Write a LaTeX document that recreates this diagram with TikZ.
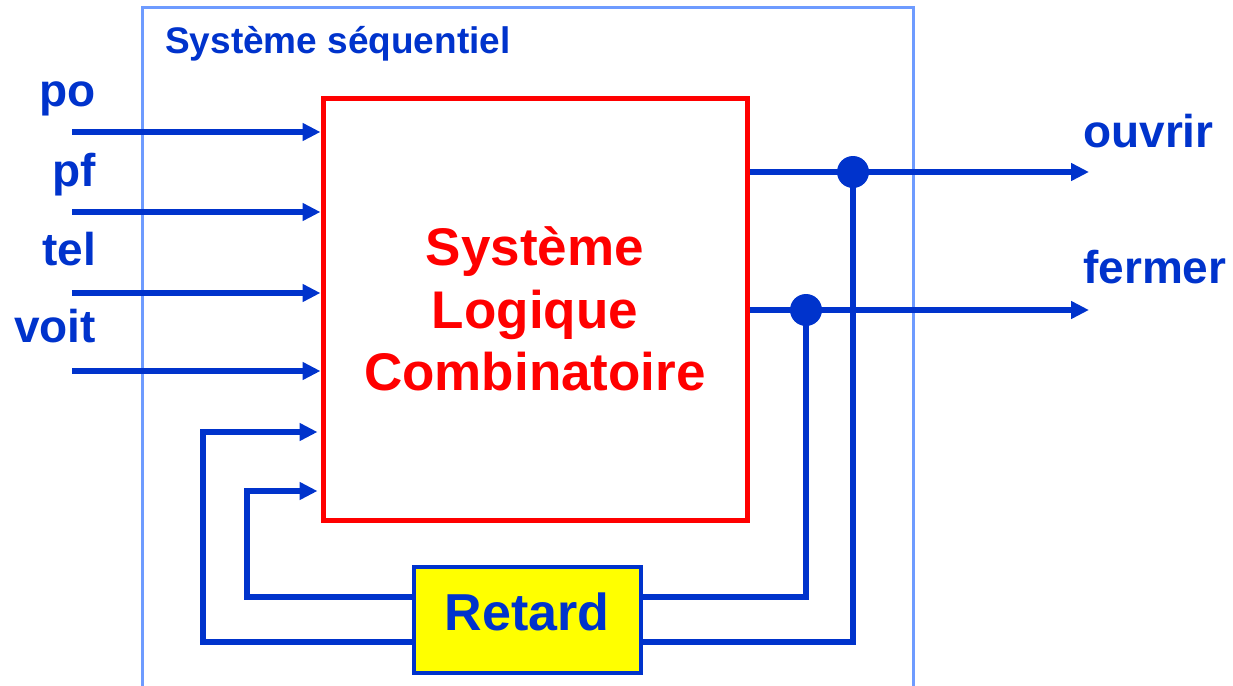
\documentclass[tikz,border=0pt]{standalone}
\usepackage{fontspec}
\setmainfont{Liberation Sans}
\usetikzlibrary{arrows.meta}
\definecolor{wireblue}{RGB}{0,51,204}
\definecolor{frameblue}{RGB}{110,155,255}
\definecolor{boxred}{RGB}{255,0,0}
\definecolor{boxyellow}{RGB}{255,255,0}
\tikzset{
  wire/.style={draw=wireblue, line width=5.5pt},
  arr/.style={wire, -{Triangle[length=18pt,width=17pt]}},
  lbl/.style={text=wireblue, font=\fontsize{46}{52}\selectfont\bfseries, inner sep=0pt},
  redtxt/.style={text=boxred, font=\fontsize{53}{62}\selectfont\bfseries, inner sep=0pt, anchor=base},
  dot/.style={circle, fill=wireblue, minimum size=32pt, inner sep=0pt},
}
\begin{document}
\begin{tikzpicture}[x=1pt,y=-1pt]
\useasboundingbox (0,0) rectangle (1233,685);
% outer frame
\draw[frameblue, line width=3pt] (142,690) -- (142,8) -- (913,8) -- (913,690);
\node[anchor=base west, text=wireblue, font=\fontsize{37}{44}\selectfont\bfseries, inner sep=0pt] (title) at (165,54) {Système séquentiel};
% boxes
\node[draw=boxred, line width=5pt, minimum width=424pt, minimum height=422pt, inner sep=0pt] (slc) at (535,309) {};
\node[redtxt] (t1) at (535,265) {Système};
\node[redtxt] (t2) at (535,328) {Logique};
\node[redtxt] (t3) at (535,390) {Combinatoire};
\node[draw=wireblue, fill=boxyellow, line width=3.5pt, minimum width=227pt, minimum height=106pt, inner sep=0pt] (ret) at (527.5,620) {};
\node[anchor=base, text=wireblue, font=\fontsize{52}{60}\selectfont\bfseries, inner sep=0pt] (rett) at (527,630) {Retard};
% input labels
\node[lbl, anchor=base east] (po) at (96,106) {po};
\node[lbl, anchor=base east] (pf) at (96,186) {pf};
\node[lbl, anchor=base east] (tel) at (96,265) {tel};
\node[lbl, anchor=base east] (voit) at (96,342) {voit};
% input coordinates
\coordinate (i1) at (72,132);
\coordinate (i2) at (72,212);
\coordinate (i3) at (72,293);
\coordinate (i4) at (72,371);
\draw[arr] (i1) -- (i1 -| slc.west);
\draw[arr] (i2) -- (i2 -| slc.west);
\draw[arr] (i3) -- (i3 -| slc.west);
\draw[arr] (i4) -- (i4 -| slc.west);
% outputs
\coordinate (o1) at (1089,172);
\coordinate (o2) at (1089,310);
\coordinate (j1) at (853,172);
\coordinate (j2) at (806,310);
\draw[arr] (o1 -| slc.east) -- (o1);
\draw[arr] (o2 -| slc.east) -- (o2);
\node[lbl, anchor=base west] (ouvrir) at (1083,147) {ouvrir};
\node[lbl, anchor=base west] (fermer) at (1083,283) {fermer};
% feedback
\coordinate (ya) at (0,597);
\coordinate (yb) at (0,642);
\coordinate (fa) at (247,491);
\coordinate (fb) at (203,432);
\draw[wire] (j1) -- (j1 |- yb) -- (ret.east |- yb);
\draw[wire] (j2) -- (j2 |- ya) -- (ret.east |- ya);
\draw[arr] (ret.west |- yb) -| (fb) -- ([xshift=-3pt]fb -| slc.west);
\draw[arr] (ret.west |- ya) -| (fa) -- ([xshift=-3pt]fa -| slc.west);
\node[dot] (d1) at (j1) {};
\node[dot] (d2) at (j2) {};
\end{tikzpicture}
\end{document}
